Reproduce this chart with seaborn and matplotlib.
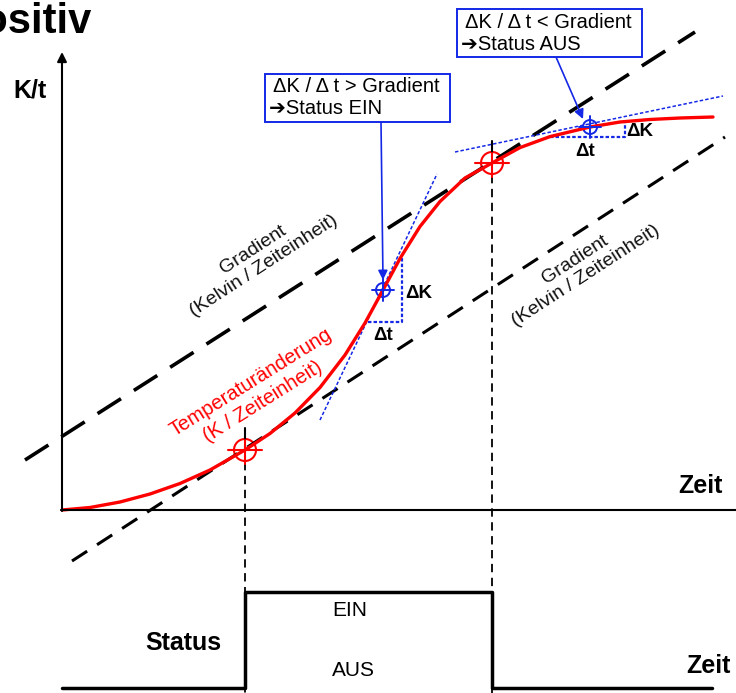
import numpy as np
import pandas as pd
import seaborn as sns
import matplotlib.pyplot as plt
from matplotlib.patches import Circle, Rectangle

# temperature curve (pixel coordinates, y grows downwards)
curve_x = [62, 90, 120, 150, 180, 210, 245, 270, 295, 320, 345, 365, 383, 400, 420, 440, 465, 492,
           520, 550, 590, 620, 650, 680, 713]
curve_y = [510, 507.5, 502, 494, 483.5, 470, 450, 433.5, 413, 387.5, 355, 323, 290, 258.5, 226.5, 201.5, 178, 163,
           147.6, 136.6, 127, 122, 119.5, 118, 117]

# gradient lines (start / end)
grad_upper_x = [25, 695]
grad_upper_y = [460, 32]
grad_lower_x = [72, 725]
grad_lower_y = [561, 137]

# switch points on the curve
switch_x = [245, 492]
switch_y = [450, 163]

# check points with tangent
check_x = [383, 590]
check_y = [290, 127]
tangent_x = [[320, 437], [455, 723]]
tangent_y = [[420, 174], [152, 96]]
tri_x = [[368, 402, 402], [550, 625, 625]]
tri_y = [[322, 322, 257], [137, 137, 120]]

# status signal
status_x = [62, 245, 245, 492, 492, 712]
status_y = [688, 688, 592, 592, 688, 688]

sns.set_theme(style="white")
plt.rcParams['font.family'] = ['Liberation Sans', 'DejaVu Sans']
plt.rcParams['lines.scale_dashes'] = False
plt.rcParams['text.color'] = 'black'

fig = plt.figure(figsize=(7.36, 6.93), dpi=100)
ax = fig.add_axes([0, 0, 1, 1])

blue = '#1428e6'
red = '#ff0000'

# axes with arrows
ax.annotate('', xy=(62, 52), xytext=(62, 511), annotation_clip=False,
            arrowprops=dict(arrowstyle='-|>', lw=1.5, color='black', mutation_scale=14, shrinkA=0, shrinkB=0))
ax.annotate('', xy=(748, 510), xytext=(61, 510), annotation_clip=False,
            arrowprops=dict(arrowstyle='-|>', lw=1.5, color='black', mutation_scale=14, shrinkA=0, shrinkB=0))

# gradient lines
ax.plot(grad_upper_x, grad_upper_y, color='black', lw=2.6, dashes=(20, 11))
ax.plot(grad_lower_x, grad_lower_y, color='black', lw=2.2, dashes=(13, 8.5))

# vertical dashed lines from switch points
for sx, sy in zip(switch_x, switch_y):
    ax.plot([sx, sx], [sy + 12, 693], color='black', lw=1.3, dashes=(6, 4))
    ax.plot([sx, sx], [sy - 22, sy - 10], color='black', lw=1.5)

# tangents and triangles
for tx, ty in zip(tangent_x, tangent_y):
    ax.plot(tx, ty, color=blue, lw=1.1, dashes=(2.5, 1.5))
for tx, ty in zip(tri_x, tri_y):
    ax.plot(tx, ty, color=blue, lw=1.6, dashes=(2.5, 1.5))

# red curve
curve = pd.DataFrame({'x': curve_x, 'y': curve_y})
sns.lineplot(data=curve, x='x', y='y', sort=False, estimator=None, color=red, lw=2.4, ax=ax)

# switch markers
for sx, sy in zip(switch_x, switch_y):
    ax.add_patch(Circle((sx, sy), 11, fill=False, ec=red, lw=1.5))
    ax.plot([sx - 17, sx + 17], [sy, sy], color=red, lw=1.5)
    ax.plot([sx, sx], [sy - 10, sy + 14], color=red, lw=1.5)

# check markers
for cx, cy in zip(check_x, check_y):
    ax.add_patch(Circle((cx, cy), 7, fill=False, ec=blue, lw=1.4))
    ax.plot([cx - 11, cx + 11], [cy, cy], color=blue, lw=1.4)
    ax.plot([cx, cx], [cy - 11, cy + 11], color=blue, lw=1.4)

# status signal
status = pd.DataFrame({'x': status_x, 'y': status_y})
sns.lineplot(data=status, x='x', y='y', sort=False, estimator=None, color='black', lw=2.5, ax=ax)

ax.set_xlim(0, 736)
ax.set_ylim(693, 0)
ax.axis('off')

# texts
ax.text(92, 33, 'positiv', fontsize=30, fontweight='bold', ha='right', va='baseline')
ax.text(13, 98, 'K/t', fontsize=18, fontweight='bold', ha='left', va='baseline')
ax.text(678, 493, 'Zeit', fontsize=18, fontweight='bold', ha='left', va='baseline')
ax.text(145, 650, 'Status', fontsize=18, fontweight='bold', ha='left', va='baseline')
ax.text(686, 673, 'Zeit', fontsize=18, fontweight='bold', ha='left', va='baseline')
ax.text(350, 616, 'EIN', fontsize=15, ha='center', va='baseline')
ax.text(353, 676, 'AUS', fontsize=15, ha='center', va='baseline')

ax.text(258, 258, 'Gradient\n(Kelvin / Zeiteinheit)', fontsize=14, color='#111111',
        ha='center', va='center', rotation=33, rotation_mode='anchor', multialignment='center')
ax.text(580, 268, 'Gradient\n(Kelvin / Zeiteinheit)', fontsize=14, color='#111111',
        ha='center', va='center', rotation=33, rotation_mode='anchor', multialignment='center')
ax.text(257, 392, 'Temperaturänderung\n(K / Zeiteinheit)', fontsize=14.5, color=red,
        ha='center', va='center', rotation=32, rotation_mode='anchor', multialignment='center')

ax.text(405, 294, 'ΔK', fontsize=13.5, fontweight='bold', ha='left', va='center')
ax.text(383, 336, 'Δt', fontsize=13.5, fontweight='bold', ha='center', va='center')
ax.text(626, 132, 'ΔK', fontsize=13.5, fontweight='bold', ha='left', va='center')
ax.text(585, 151, 'Δt', fontsize=13.5, fontweight='bold', ha='center', va='center')

# boxes with conditions
boxes = [
    (265, 74, 185, 48, 'ΔK / Δ t > Gradient', '➔Status EIN', (381, 122), (383, 280)),
    (457, 9, 185, 48, 'ΔK / Δ t < Gradient', '➔Status AUS', (556, 57), (583, 119)),
]
for bx, by, bw, bh, l1, l2, a0, a1 in boxes:
    ax.add_patch(Rectangle((bx, by), bw, bh, fill=True, fc='white', ec=blue, lw=1.4, zorder=5))
    ax.text(bx + 8, by + 13, l1, fontsize=14.5, ha='left', va='center', zorder=6)
    ax.text(bx + 4, by + 35, l2, fontsize=14.5, ha='left', va='center', zorder=6,
            family=['Liberation Sans', 'DejaVu Sans'])
    ax.annotate('', xy=a1, xytext=a0,
                arrowprops=dict(arrowstyle='-|>', lw=1.2, color=blue, mutation_scale=14, shrinkA=0, shrinkB=0))

fig.savefig('out.png', dpi=100)
